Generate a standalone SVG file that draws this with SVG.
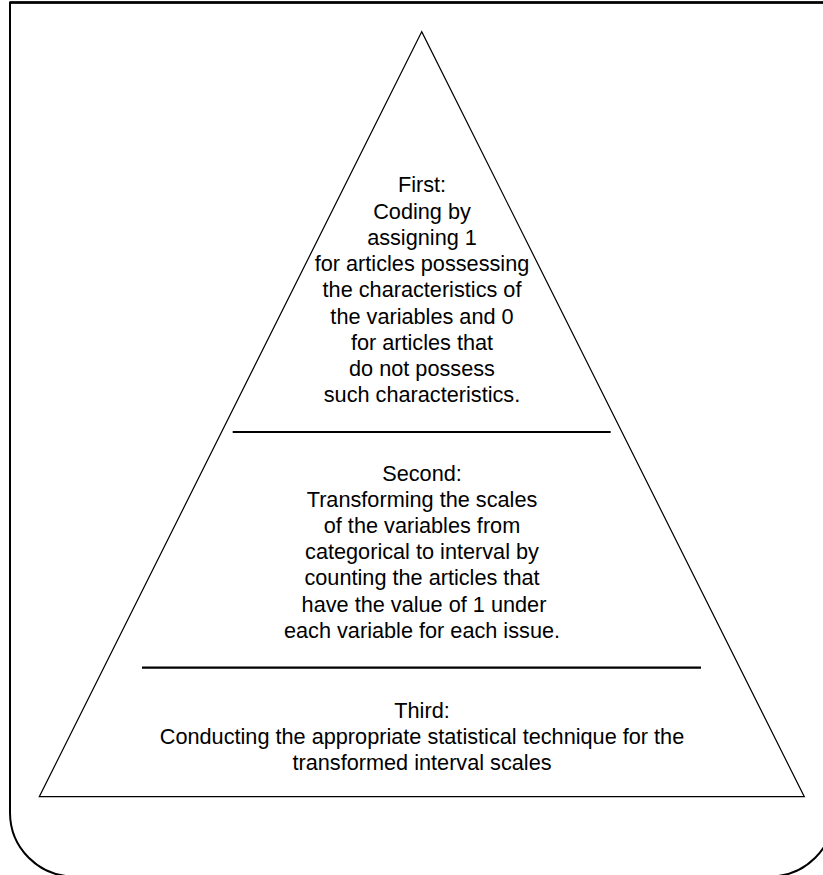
<svg xmlns="http://www.w3.org/2000/svg" width="823" height="875" viewBox="0 0 823 875">
<style>
.t{font-family:"Liberation Sans",Arial,sans-serif;font-size:21.7px;fill:#000;text-anchor:middle}
.thin{fill:none;stroke:#000;stroke-width:1.2}
.div{stroke:#000;stroke-width:2.2}
</style>
<rect x="0" y="0" width="823" height="875" fill="#fff"/>
<g id="frame">
<path d="M10,2.5 H834 V812.5 A64,64 0 0 1 770,876.5 H74 A64,64 0 0 1 10,812.5 Z" fill="none" stroke="#000" stroke-width="2"/>
<line x1="10" y1="2.5" x2="834" y2="2.5" stroke="#000" stroke-width="2.6"/>
</g>
<g id="pyramid">
<polygon class="thin" points="421.7,31.7 39.3,796.7 804.3,796.7"/>
</g>
<g id="connectors">
<line class="div" x1="232.7" y1="432" x2="610.7" y2="432"/>
<line class="div" x1="142" y1="667.7" x2="701" y2="667.7"/>
</g>
<g id="tier-first">
<text class="t" x="422" y="192.3">First:</text>
<text class="t" x="422" y="218.6">Coding by</text>
<text class="t" x="422" y="244.8">assigning 1</text>
<text class="t" x="422" y="271">for articles possessing</text>
<text class="t" x="422" y="297.3">the characteristics of</text>
<text class="t" x="422" y="323.6">the variables and 0</text>
<text class="t" x="422" y="349.8">for articles that</text>
<text class="t" x="422" y="376">do not possess</text>
<text class="t" x="422" y="402.3">such characteristics.</text>
</g>
<g id="tier-second">
<text class="t" x="422" y="480.7">Second:</text>
<text class="t" x="422" y="506.9">Transforming the scales</text>
<text class="t" x="422" y="533">of the variables from</text>
<text class="t" x="422" y="559.2">categorical to interval by</text>
<text class="t" x="422" y="585.4">counting the articles that</text>
<text class="t" x="424" y="611.6">have the value of 1 under</text>
<text class="t" x="422" y="637.8">each variable for each issue.</text>
</g>
<g id="tier-third">
<text class="t" x="422" y="717.5">Third:</text>
<text class="t" x="422" y="743.5">Conducting the appropriate statistical technique for the</text>
<text class="t" x="422" y="769.5">transformed interval scales</text>
</g>
</svg>
